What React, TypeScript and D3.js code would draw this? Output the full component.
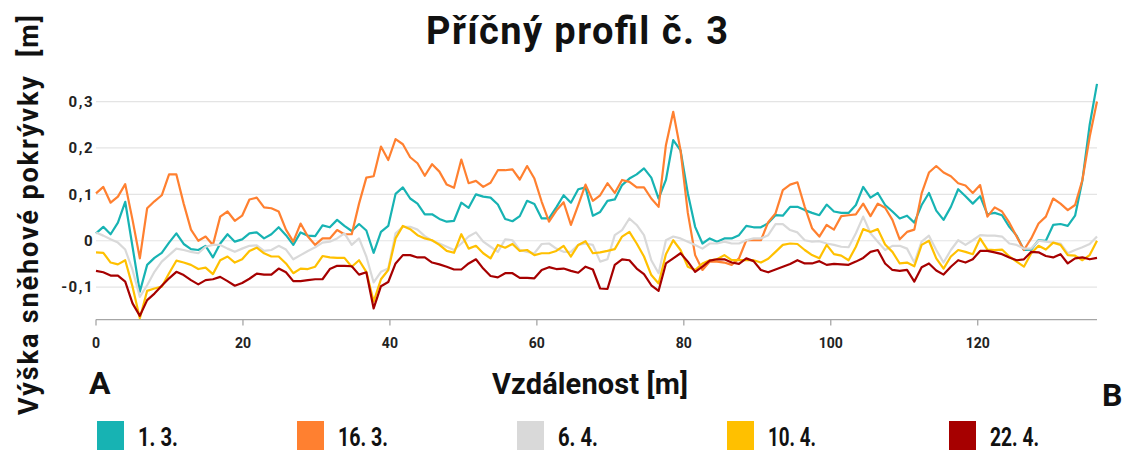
import React from "react";
import * as d3 from "d3";

// Cross-section profile no. 3: snow depth change along the transect A → B
const STEP = 0.9944; // spacing of measured points along the profile [m]

const seriesNames = ["1. 3.", "16. 3.", "6. 4.", "10. 4.", "22. 4."];
const seriesColors = ["#17b3b3", "#ff8030", "#d9d9d9", "#ffc000", "#a60000"];

const mar01 = [
  0.016, 0.030, 0.014, 0.039, 0.084, -0.013, -0.110, -0.052, -0.037, -0.026, -0.004, 0.016, -0.007, -0.018, -0.020, -0.011, -0.036, -0.006, 0.014, -0.002, 0.003, 0.016, 0.018,
  0.005, 0.014, 0.029, 0.012, -0.009, 0.018, 0.011, 0.010, 0.033, 0.029, 0.045, 0.032, 0.021, 0.036, 0.022, -0.026, 0.019, 0.032, 0.101, 0.115, 0.091, 0.080, 0.057,
  0.057, 0.047, 0.041, 0.043, 0.082, 0.071, 0.100, 0.095, 0.093, 0.078, 0.047, 0.042, 0.053, 0.086, 0.079, 0.048, 0.048, 0.072, 0.098, 0.082, 0.111, 0.115, 0.054,
  0.062, 0.086, 0.089, 0.120, 0.134, 0.143, 0.156, 0.136, 0.091, 0.131, 0.217, 0.195, 0.102, 0.030, -0.006, 0.005, -0.002, 0.005, 0.005, 0.012, 0.032, 0.029, 0.029, 0.038,
  0.055, 0.054, 0.073, 0.073, 0.066, 0.060, 0.055, 0.078, 0.063, 0.060, 0.060, 0.077, 0.116, 0.093, 0.103, 0.077, 0.063, 0.048, 0.054, 0.039, 0.077, 0.103, 0.065,
  0.045, 0.073, 0.111, 0.096, 0.080, 0.096, 0.057, 0.060, 0.055, 0.030, 0.011, -0.020, -0.019, 0.001, 0.000, 0.034, 0.036, 0.032, 0.054, 0.130, 0.250, 0.338,
];

const mar16 = [
  0.102, 0.116, 0.082, 0.095, 0.122, 0.045, -0.038, 0.070, 0.085, 0.098, 0.143, 0.143, 0.080, 0.024, 0.000, 0.009, -0.009, 0.052, 0.063, 0.043, 0.054, 0.089, 0.093,
  0.072, 0.070, 0.063, 0.024, -0.002, 0.037, 0.009, -0.009, 0.005, 0.005, 0.023, 0.014, 0.014, 0.080, 0.136, 0.139, 0.203, 0.174, 0.219, 0.208, 0.180, 0.167, 0.140,
  0.165, 0.149, 0.121, 0.114, 0.175, 0.124, 0.129, 0.116, 0.125, 0.152, 0.152, 0.154, 0.132, 0.161, 0.134, 0.084, 0.041, 0.065, 0.083, 0.034, 0.077, 0.121, 0.086,
  0.098, 0.124, 0.103, 0.131, 0.127, 0.115, 0.115, 0.091, 0.073, 0.206, 0.278, 0.195, 0.060, -0.031, -0.063, -0.045, -0.045, -0.047, -0.052, -0.038, 0.001, 0.001, 0.001, 0.040,
  0.059, 0.109, 0.121, 0.126, 0.073, 0.027, 0.009, 0.034, 0.024, 0.053, 0.055, 0.057, 0.080, 0.053, 0.080, 0.071, 0.045, 0.003, 0.019, 0.024, 0.102, 0.147, 0.161,
  0.147, 0.139, 0.124, 0.119, 0.103, 0.120, 0.052, 0.072, 0.063, 0.039, 0.009, -0.020, 0.005, 0.037, 0.052, 0.091, 0.080, 0.066, 0.077, 0.131, 0.224, 0.300,
];

const apr06 = [
  0.018, 0.011, 0.003, -0.004, -0.019, -0.063, -0.121, -0.096, -0.067, -0.045, -0.031, -0.017, -0.020, -0.024, -0.027, -0.013, -0.009, -0.009, -0.017, -0.024, -0.017, -0.011, -0.010,
  -0.022, -0.020, -0.011, -0.019, -0.040, -0.031, -0.022, -0.014, -0.004, -0.002, 0.005, 0.016, -0.009, 0.005, -0.034, -0.090, -0.067, -0.060, 0.016, 0.030, 0.030, 0.024, 0.010,
  0.000, -0.006, -0.013, -0.020, -0.006, 0.009, 0.018, -0.002, -0.013, -0.024, 0.003, 0.001, -0.020, -0.024, -0.027, -0.007, -0.006, -0.017, -0.024, -0.024, -0.009, -0.006, -0.009,
  -0.045, -0.040, 0.012, 0.023, 0.048, 0.034, 0.012, -0.042, -0.070, 0.001, 0.009, 0.005, -0.002, -0.009, -0.017, -0.006, -0.006, -0.002, -0.006, -0.006, 0.001, 0.005, 0.005, 0.012,
  0.036, 0.036, 0.023, 0.018, 0.001, -0.002, -0.001, -0.006, -0.009, -0.013, -0.014, 0.016, 0.052, 0.016, -0.002, -0.020, -0.011, -0.011, -0.017, -0.047, -0.002, 0.011, -0.020,
  -0.047, -0.020, 0.001, -0.009, 0.001, 0.012, 0.011, 0.011, 0.009, -0.006, -0.009, -0.017, -0.017, 0.000, -0.002, -0.004, -0.006, -0.027, -0.020, -0.014, -0.007, 0.009,
];

const apr10 = [
  -0.025, -0.026, -0.047, -0.051, -0.042, -0.099, -0.167, -0.108, -0.103, -0.099, -0.070, -0.043, -0.047, -0.052, -0.061, -0.058, -0.072, -0.042, -0.034, -0.047, -0.040, -0.022, -0.015,
  -0.027, -0.034, -0.034, -0.049, -0.070, -0.060, -0.061, -0.056, -0.033, -0.036, -0.037, -0.037, -0.056, -0.042, -0.067, -0.131, -0.083, -0.063, 0.005, 0.032, 0.025, 0.012, 0.005,
  0.001, -0.009, -0.022, -0.026, 0.014, -0.017, -0.011, -0.027, -0.038, -0.009, -0.015, -0.007, -0.022, -0.020, -0.031, -0.027, -0.027, -0.022, -0.011, -0.034, -0.009, -0.001, -0.027,
  -0.025, -0.022, -0.018, 0.009, 0.019, -0.006, -0.034, -0.074, -0.092, -0.029, 0.001, -0.020, -0.056, -0.063, -0.049, -0.042, -0.040, -0.031, -0.042, -0.042, -0.042, -0.042, -0.047, -0.039,
  -0.024, -0.009, -0.006, -0.007, -0.020, -0.031, -0.038, -0.009, -0.029, -0.032, -0.042, -0.013, 0.025, 0.019, 0.025, -0.008, -0.024, -0.049, -0.047, -0.055, -0.009, 0.000, -0.038,
  -0.060, -0.034, -0.020, -0.024, -0.029, 0.005, -0.019, -0.020, -0.019, -0.034, -0.045, -0.056, -0.027, -0.011, -0.019, -0.004, -0.009, -0.031, -0.032, -0.042, -0.031, 0.000,
];

const apr22 = [
  -0.065, -0.068, -0.075, -0.075, -0.088, -0.135, -0.162, -0.128, -0.114, -0.097, -0.081, -0.067, -0.074, -0.085, -0.094, -0.085, -0.083, -0.078, -0.087, -0.097, -0.091, -0.082, -0.071,
  -0.073, -0.073, -0.060, -0.068, -0.087, -0.087, -0.085, -0.083, -0.083, -0.061, -0.054, -0.054, -0.055, -0.073, -0.068, -0.146, -0.098, -0.089, -0.049, -0.031, -0.031, -0.036, -0.036,
  -0.047, -0.051, -0.056, -0.062, -0.062, -0.049, -0.040, -0.060, -0.076, -0.079, -0.070, -0.070, -0.080, -0.080, -0.081, -0.063, -0.057, -0.061, -0.060, -0.065, -0.069, -0.056, -0.062,
  -0.103, -0.104, -0.052, -0.040, -0.042, -0.060, -0.072, -0.096, -0.108, -0.049, -0.038, -0.027, -0.045, -0.067, -0.056, -0.043, -0.040, -0.040, -0.047, -0.050, -0.038, -0.044, -0.063, -0.068,
  -0.062, -0.056, -0.050, -0.042, -0.049, -0.049, -0.044, -0.052, -0.050, -0.051, -0.052, -0.045, -0.037, -0.024, -0.020, -0.049, -0.063, -0.065, -0.063, -0.088, -0.057, -0.049, -0.064,
  -0.073, -0.056, -0.042, -0.047, -0.040, -0.022, -0.022, -0.025, -0.029, -0.036, -0.042, -0.040, -0.024, -0.025, -0.033, -0.036, -0.029, -0.049, -0.038, -0.036, -0.040, -0.037,
];

const seriesValues = [mar01, mar16, apr06, apr10, apr22];

const yTicks = [-0.1, 0, 0.1, 0.2, 0.3];
const xTicks = [0, 20, 40, 60, 80, 100, 120];

const W = 1126;
const H = 452;
const plot = { left: 96, right: 1097, top: 83, bottom: 319.6 };
const legendX = [97, 297, 517, 727, 949];
const legendLabelW = [40, 50, 40, 48, 49];

const fmt = (v: number) => (v === 0 ? "0" : d3.format(".1f")(v).replace(".", ",").replace("−", "-"));

export default function App() {
  const maxX = (mar01.length - 1) * STEP;
  const x = d3.scaleLinear().domain([0, maxX]).range([plot.left, plot.right]);
  const y = d3.scaleLinear().domain([-0.17, 0.34]).range([plot.bottom, plot.top]);
  const line = d3
    .line<number>()
    .x((_, i) => x(i * STEP))
    .y((d) => y(d));

  const font = "Roboto, 'Noto Sans', sans-serif";

  return (
    <svg width={W} height={H} style={{ display: "block", position: "absolute", left: 0, top: 0 }} fontFamily={font}>
      <rect width={W} height={H} fill="#fff" />
      <text x={577} y={44} textAnchor="middle" fontSize={38} fontWeight={700} fill="#111" textLength={302} lengthAdjust="spacing">
        Příčný profil č. 3
      </text>

      {/* grid */}
      {yTicks.map((t) => (
        <g key={t}>
          <line x1={plot.left} x2={plot.right} y1={y(t)} y2={y(t)} stroke="#e4e4e4" strokeWidth={1.2} />
          <text x={94} y={y(t)} dy="0.35em" textAnchor="end" fontSize={15} fontWeight={700} fill="#222" letterSpacing={1.5}>
            {fmt(t)}
          </text>
        </g>
      ))}

      {/* x axis */}
      <line x1={plot.left} x2={plot.right} y1={plot.bottom} y2={plot.bottom} stroke="#a6a6a6" strokeWidth={1.3} />
      {xTicks.map((t) => (
        <g key={t}>
          <line x1={x(t)} x2={x(t)} y1={plot.bottom} y2={plot.bottom + 6} stroke="#a6a6a6" strokeWidth={1.3} />
          <text x={x(t)} y={348} textAnchor="middle" fontSize={14} fontWeight={700} fill="#222">
            {t}
          </text>
        </g>
      ))}

      {/* series */}
      {seriesValues.map((vals, k) => (
        <path key={k} d={line(vals) || ""} fill="none" stroke={seriesColors[k]} strokeWidth={2.2} strokeLinejoin="round" />
      ))}

      {/* axis titles */}
      <text x={590} y={394} textAnchor="middle" fontSize={29} fontWeight={700} fill="#111" textLength={196} lengthAdjust="spacing">
        Vzdálenost [m]
      </text>
      <text
        transform="translate(38,215) rotate(-90)"
        textAnchor="middle"
        fontSize={27}
        fontWeight={700}
        fill="#111"
        style={{ whiteSpace: "pre" }}
        textLength={400}
        lengthAdjust="spacing"
      >
        {"Výška sněhové pokrývky  [m]"}
      </text>
      <text x={89} y={394} fontSize={32} fontWeight={700} fill="#111">A</text>
      <text x={1102} y={406} fontSize={32} fontWeight={700} fill="#111">B</text>

      {/* legend */}
      {seriesNames.map((name, k) => (
        <g key={name}>
          <rect x={legendX[k]} y={421} width={27} height={29} fill={seriesColors[k]} />
          <text
            x={legendX[k] + 41}
            y={446}
            fontSize={26}
            fontWeight={700}
            fill="#111"
            textLength={legendLabelW[k]}
            lengthAdjust="spacingAndGlyphs"
          >
            {name}
          </text>
        </g>
      ))}
    </svg>
  );
}
